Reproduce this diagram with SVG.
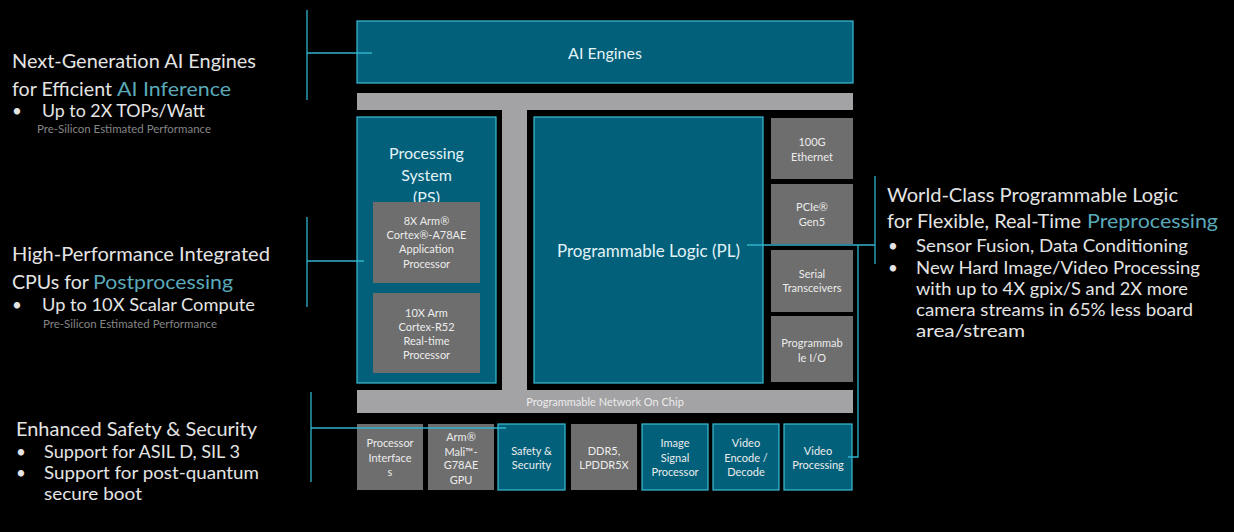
<svg xmlns="http://www.w3.org/2000/svg" width="1234" height="532" viewBox="0 0 1234 532">
<style>
.teal{fill:#02607a;stroke:#3cbcd6;stroke-width:1.2}
.gray{fill:#a3a3a5}
.dgray{fill:#6e6e6e}
.conn{stroke:#2fb3cd;stroke-width:1.3;fill:none}
.hd{font-family:Lato,"Liberation Sans",sans-serif;fill:#e4e4e4}
.hl{font-family:Lato,"Liberation Sans",sans-serif;fill:#5aa9b9}
.note{font-family:Lato,"Liberation Sans",sans-serif;fill:#858585;font-size:11px}
.bt{font-family:Lato,"Liberation Sans",sans-serif;fill:#e2f3f7;text-anchor:middle}
.gt{font-family:Lato,"Liberation Sans",sans-serif;fill:#ececec;text-anchor:middle;font-size:11px}
</style>
<rect x="0" y="0" width="1234" height="532" fill="#000"/>

<g id="fabric">
<rect class="gray" x="357" y="93" width="496" height="17"/>
<rect class="gray" x="502" y="110" width="25" height="280"/>
</g>

<g id="ai-engines">
<rect class="teal" x="357" y="21" width="496" height="62"/>
<text class="bt" x="605" y="58.5" font-size="16">AI Engines</text>
</g>

<g id="ps">
<rect class="teal" x="357" y="117" width="139" height="266"/>
<text class="bt" x="426.5" y="159" font-size="16">Processing</text>
<text class="bt" x="426.5" y="181" font-size="16">System</text>
<text class="bt" x="426.5" y="203" font-size="16">(PS)</text>
</g>
<g id="ps-a78">
<rect class="dgray" x="373" y="202" width="107" height="81"/>
<text class="gt" x="426.5" y="225">8X Arm®</text>
<text class="gt" x="426.5" y="239">Cortex®-A78AE</text>
<text class="gt" x="426.5" y="253">Application</text>
<text class="gt" x="426.5" y="268">Processor</text>
</g>
<g id="ps-r52">
<rect class="dgray" x="373" y="293" width="107" height="80"/>
<text class="gt" x="426.5" y="317">10X Arm</text>
<text class="gt" x="426.5" y="331">Cortex-R52</text>
<text class="gt" x="426.5" y="345">Real-time</text>
<text class="gt" x="426.5" y="359">Processor</text>
</g>

<g id="pl">
<rect class="teal" x="534" y="117" width="229" height="266"/>
<text class="bt" x="648.5" y="256.5" font-size="17">Programmable Logic (PL)</text>
</g>

<g id="eth">
<rect class="dgray" x="771" y="118" width="82" height="61"/>
<text class="gt" x="812" y="146">100G</text>
<text class="gt" x="812" y="161">Ethernet</text>
</g>
<g id="pcie">
<rect class="dgray" x="771" y="184" width="82" height="60"/>
<text class="gt" x="812" y="211" font-size="10">PCIe®</text>
<text class="gt" x="812" y="226" font-size="10">Gen5</text>
</g>
<g id="serial">
<rect class="dgray" x="771" y="250" width="82" height="62"/>
<text class="gt" x="812" y="278">Serial</text>
<text class="gt" x="812" y="292">Transceivers</text>
</g>
<g id="pio">
<rect class="dgray" x="771" y="316" width="82" height="66"/>
<text class="gt" x="812" y="347">Programmab</text>
<text class="gt" x="812" y="362">le I/O</text>
</g>

<g id="noc">
<rect class="gray" x="357" y="390" width="496" height="23"/>
<text class="gt" x="605" y="405.5">Programmable Network On Chip</text>
</g>

<g id="proc-if">
<rect class="dgray" x="357" y="424" width="66" height="66"/>
<text class="gt" x="390" y="447">Processor</text>
<text class="gt" x="390" y="461.5">Interface</text>
<text class="gt" x="390" y="476">s</text>
</g>
<g id="gpu">
<rect class="dgray" x="428" y="424" width="66" height="66"/>
<text class="gt" x="461" y="441">Arm®</text>
<text class="gt" x="461" y="455.5">Mali™-</text>
<text class="gt" x="461" y="469">G78AE</text>
<text class="gt" x="461" y="483.5">GPU</text>
</g>
<g id="safety">
<rect class="teal" x="498" y="424" width="67" height="66"/>
<text class="gt" x="531.5" y="455">Safety &amp;</text>
<text class="gt" x="531.5" y="469">Security</text>
</g>
<g id="ddr">
<rect class="dgray" x="571" y="424" width="66" height="66"/>
<text class="gt" x="604" y="455">DDR5,</text>
<text class="gt" x="604" y="469">LPDDR5X</text>
</g>
<g id="isp">
<rect class="teal" x="642" y="424" width="66" height="66"/>
<text class="gt" x="675" y="447">Image</text>
<text class="gt" x="675" y="461.5">Signal</text>
<text class="gt" x="675" y="476">Processor</text>
</g>
<g id="vcu">
<rect class="teal" x="713" y="424" width="66" height="66"/>
<text class="gt" x="746" y="447">Video</text>
<text class="gt" x="746" y="461.5">Encode /</text>
<text class="gt" x="746" y="476">Decode</text>
</g>
<g id="vproc">
<rect class="teal" x="784" y="424" width="68" height="66"/>
<text class="gt" x="818" y="455">Video</text>
<text class="gt" x="818" y="468.5" font-size="9.5">Processing</text>
</g>

<g id="connectors">
<path class="conn" d="M307 10V100M307 53H372"/>
<path class="conn" d="M307 217V307M307 261H364"/>
<path class="conn" d="M311 392V482M311 428H506"/>
<path class="conn" d="M747 245H875M875 176V264M858 245V457H848"/>
</g>

<g id="note-ai">
<text class="hd" x="12" y="68" font-size="20" textLength="244" lengthAdjust="spacingAndGlyphs">Next-Generation AI Engines</text>
<text class="hd" x="12" y="96" font-size="20" textLength="100" lengthAdjust="spacingAndGlyphs">for Efficient</text>
<text class="hl" x="117" y="96" font-size="20" textLength="114" lengthAdjust="spacingAndGlyphs">AI Inference</text>
<text class="hd" x="12" y="117" font-size="17">•</text>
<text class="hd" x="42" y="117" font-size="17" textLength="163" lengthAdjust="spacingAndGlyphs">Up to 2X TOPs/Watt</text>
<text class="note" x="37" y="133" textLength="174" lengthAdjust="spacingAndGlyphs">Pre-Silicon Estimated Performance</text>
</g>

<g id="note-cpu">
<text class="hd" x="12" y="261" font-size="20" textLength="258" lengthAdjust="spacingAndGlyphs">High-Performance Integrated</text>
<text class="hd" x="12" y="289" font-size="20" textLength="77" lengthAdjust="spacingAndGlyphs">CPUs for</text>
<text class="hl" x="93" y="289" font-size="20" textLength="140" lengthAdjust="spacingAndGlyphs">Postprocessing</text>
<text class="hd" x="12" y="311" font-size="17">•</text>
<text class="hd" x="42" y="311" font-size="17" textLength="213" lengthAdjust="spacingAndGlyphs">Up to 10X Scalar Compute</text>
<text class="note" x="43" y="328" textLength="174" lengthAdjust="spacingAndGlyphs">Pre-Silicon Estimated Performance</text>
</g>

<g id="note-safety">
<text class="hd" x="16" y="436" font-size="20" textLength="241" lengthAdjust="spacingAndGlyphs">Enhanced Safety &amp; Security</text>
<text class="hd" x="16" y="458" font-size="17">•</text>
<text class="hd" x="44" y="458" font-size="17" textLength="196" lengthAdjust="spacingAndGlyphs">Support for ASIL D, SIL 3</text>
<text class="hd" x="16" y="479" font-size="17">•</text>
<text class="hd" x="44" y="479" font-size="17" textLength="215" lengthAdjust="spacingAndGlyphs">Support for post-quantum</text>
<text class="hd" x="44" y="500" font-size="17" textLength="98" lengthAdjust="spacingAndGlyphs">secure boot</text>
</g>

<g id="note-pl">
<text class="hd" x="887" y="202" font-size="20" textLength="291" lengthAdjust="spacingAndGlyphs">World-Class Programmable Logic</text>
<text class="hd" x="887" y="228" font-size="20" textLength="194" lengthAdjust="spacingAndGlyphs">for Flexible, Real-Time</text>
<text class="hl" x="1087" y="228" font-size="20" textLength="131" lengthAdjust="spacingAndGlyphs">Preprocessing</text>
<text class="hd" x="888" y="252" font-size="17">•</text>
<text class="hd" x="916" y="252" font-size="17" textLength="272" lengthAdjust="spacingAndGlyphs">Sensor Fusion, Data Conditioning</text>
<text class="hd" x="888" y="274" font-size="17">•</text>
<text class="hd" x="916" y="274" font-size="17" textLength="284" lengthAdjust="spacingAndGlyphs">New Hard Image/Video Processing</text>
<text class="hd" x="916" y="295" font-size="17" textLength="272" lengthAdjust="spacingAndGlyphs">with up to 4X gpix/S and 2X more</text>
<text class="hd" x="916" y="316" font-size="17" textLength="277" lengthAdjust="spacingAndGlyphs">camera streams in 65% less board</text>
<text class="hd" x="916" y="337" font-size="17" textLength="109" lengthAdjust="spacingAndGlyphs">area/stream</text>
</g>
</svg>
